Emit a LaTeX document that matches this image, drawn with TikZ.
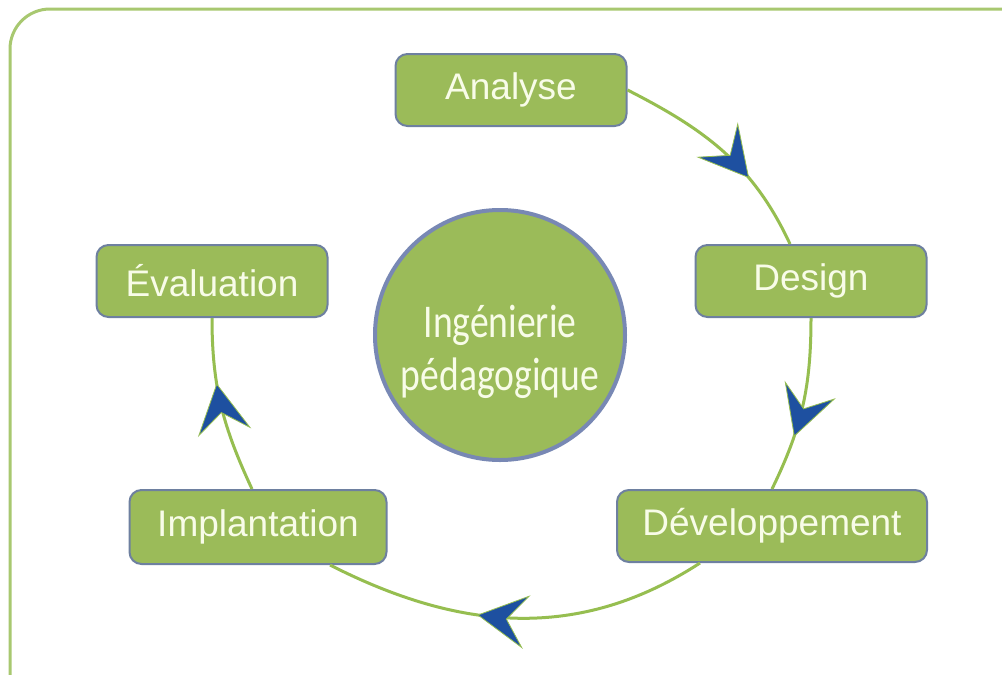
\documentclass[tikz,border=0pt]{standalone}
\usepackage{fontspec}
\setmainfont{Liberation Sans}
\newfontfamily\circfont[FakeStretch=0.8]{Carlito}
\usetikzlibrary{arrows.meta,decorations.markings}
\definecolor{boxgreen}{RGB}{155,187,89}
\definecolor{boxborder}{RGB}{110,128,160}
\definecolor{framegreen}{RGB}{168,200,112}
\definecolor{linkgreen}{RGB}{150,190,80}
\definecolor{arrowblue}{RGB}{30,80,160}
\definecolor{textcream}{RGB}{248,252,232}
\definecolor{circborder}{RGB}{120,136,180}
\tikzset{
  bigtip/.tip={Stealth[length=50pt,width=54pt,inset=20pt,fill=arrowblue,color=linkgreen,line width=0.8pt]},
  stagebox/.style={draw=boxborder, line width=2pt, fill=boxgreen, rounded corners=12pt,
    text=textcream, font=\fontsize{37}{40}\selectfont, minimum height=72pt, inner sep=0pt},
  link/.style={draw=linkgreen, line width=3pt,
    decoration={markings, mark=at position #1 with {\arrow{bigtip}}}, postaction={decorate}},
}
\begin{document}
\begin{tikzpicture}[x=1pt,y=-1pt]
\useasboundingbox (0,0) rectangle (1002,675);
\clip (0,0) rectangle (1002,675);
\fill[white] (0,0) rectangle (1002,675);
\draw[framegreen, line width=3pt, rounded corners=40pt] (10,700) -- (10,9) -- (1030,9);

\node[stagebox, minimum width=231pt] (an) at (511,90) {Analyse};
\node[stagebox, minimum width=231pt] (de) at (811,281) {Design};
\node[stagebox, minimum width=310pt] (dv) at (772,526) {Développement};
\node[stagebox, minimum width=257pt, minimum height=74pt] (im) at (258,527) {Implantation};
\node[stagebox, minimum width=231pt] (ev) at (212,281) {Évaluation};
\node[circle, draw=circborder, line width=4pt, fill=boxgreen, minimum size=250pt] (ing) at (500,335) {};
\node[text=textcream, font=\circfont\fontsize{47}{53}\selectfont, align=center, inner sep=0pt] (ingt) at (500,352) {Ingénierie\\pédagogique};

\draw[link=0.66] (an.east) to[out=-27,in=115] ([xshift=-21pt]de.north);
\draw[link=0.68] (de.south) to[out=-90,in=64] (dv.north);
\draw[link=0.6] ([xshift=-72pt]dv.south) to[out=-147,in=-27] ([xshift=72pt]im.south);
\draw[link=0.63] ([xshift=-6pt]im.north) to[out=115,in=-90] (ev.south);
\end{tikzpicture}
\end{document}
